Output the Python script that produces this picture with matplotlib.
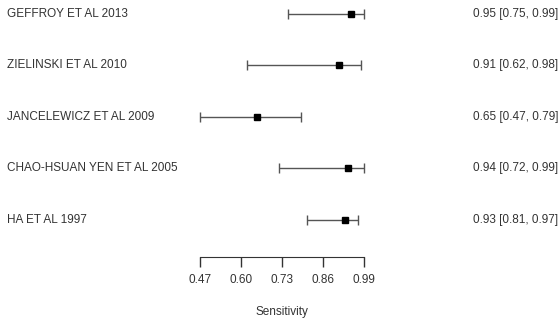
import matplotlib
matplotlib.use("Agg")
import matplotlib.pyplot as plt
from matplotlib.transforms import blended_transform_factory

plt.rcParams['font.family'] = ['Liberation Sans', 'DejaVu Sans']

studies = ["GEFFROY ET AL 2013", "ZIELINSKI ET AL 2010", "JANCELEWICZ ET AL 2009",
           "CHAO-HSUAN YEN ET AL 2005", "HA ET AL 1997"]
est = [0.95, 0.91, 0.65, 0.94, 0.93]
lower = [0.75, 0.62, 0.47, 0.72, 0.81]
upper = [0.99, 0.98, 0.79, 0.99, 0.97]
ticks = [0.47, 0.60, 0.73, 0.86, 0.99]
xlabel = "Sensitivity"

W, H = 560, 320
fig = plt.figure(figsize=(W / 100, H / 100), dpi=100)
ax = fig.add_axes([200 / W, 63 / H, 164 / W, 257 / H])
ax.set_xlim(0.47, 0.99)
ax.set_ylim(4.72, -0.272)

ypos = list(range(len(studies)))
for i in ypos:
    ax.errorbar([est[i]], [i], xerr=[[est[i] - lower[i]], [upper[i] - est[i]]],
                fmt='s', color='black', ecolor='#555555', elinewidth=1.0,
                capsize=3.5, capthick=1.0, markersize=5, clip_on=False)

trans = blended_transform_factory(fig.transFigure, ax.transData)
for i, s in enumerate(studies):
    ax.text(7 / W, i, s, transform=trans, ha='left', va='center', fontsize=8.5, color='#333333')
    ax.text(473 / W, i, f"{est[i]:.2f} [{lower[i]:.2f}, {upper[i]:.2f}]", transform=trans,
            ha='left', va='center', fontsize=8.5, color='#333333')

for sp in ['top', 'right', 'left']:
    ax.spines[sp].set_visible(False)
ax.spines['bottom'].set_color('#333333')
ax.set_yticks([])
ax.set_xticks(ticks)
ax.set_xticklabels([f"{t:.2f}" for t in ticks])
ax.tick_params(axis='x', direction='out', length=7.5, width=1, colors='#333333',
               labelsize=8.5, pad=5)
ax.set_xlabel(xlabel, fontsize=8.5, color='#333333', labelpad=14)
ax.patch.set_alpha(0)

fig.savefig("out.png", dpi=100)
